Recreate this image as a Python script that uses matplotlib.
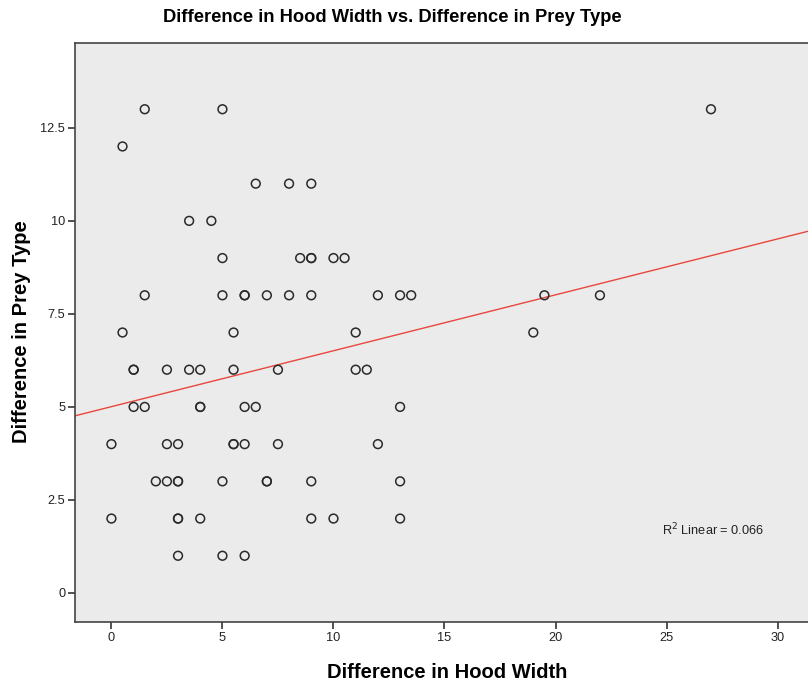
import numpy as np
import matplotlib
matplotlib.use("Agg")
import matplotlib.pyplot as plt

plt.rcParams['font.family'] = ['Liberation Sans', 'DejaVu Sans']

# Data (grouped by prey-type difference)
hood_13 = [1.5, 5, 27]
hood_12 = [0.5]
hood_11 = [6.5, 8, 9]
hood_10 = [3.5, 4.5]
hood_9 = [5, 8.5, 9, 9, 10, 10.5]
hood_8 = [1.5, 5, 6, 6, 7, 8, 9, 12, 13, 13.5, 19.5, 22]
hood_7 = [0.5, 5.5, 11, 19]
hood_6 = [1, 1, 2.5, 3.5, 4, 5.5, 7.5, 11, 11.5]
hood_5 = [1, 1.5, 4, 4, 6, 6.5, 13]
hood_4 = [0, 2.5, 3, 5.5, 5.5, 6, 7.5, 12]
hood_3 = [2, 2.5, 3, 3, 5, 7, 7, 9, 13]
hood_2 = [0, 3, 3, 4, 9, 10, 13]
hood_1 = [3, 5, 6]

groups = {13: hood_13, 12: hood_12, 11: hood_11, 10: hood_10, 9: hood_9,
          8: hood_8, 7: hood_7, 6: hood_6, 5: hood_5, 4: hood_4,
          3: hood_3, 2: hood_2, 1: hood_1}

hood_width = []
prey_type = []
for py, xs in groups.items():
    hood_width.extend(xs)
    prey_type.extend([py] * len(xs))
hood_width = np.array(hood_width, dtype=float)
prey_type = np.array(prey_type, dtype=float)

x_ticks = [0, 5, 10, 15, 20, 25, 30]
y_ticks = [0, 2.5, 5, 7.5, 10, 12.5]
y_tick_labels = ['0', '2.5', '5', '7.5', '10', '12.5']
r2_label = "R$^2$ Linear = 0.066"

W, H = 808, 685
fig = plt.figure(figsize=(W/100, H/100), dpi=100)
ax = fig.add_axes([75/W, 63/H, 1 - 75/W, (622-43)/H])
ax.set_facecolor('#EBEBEB')

xlim = (-1.64, 31.37)
ax.set_xlim(*xlim)
ax.set_ylim(-0.78, 14.78)

slope, intercept = np.polyfit(hood_width, prey_type, 1)
xl = np.array(xlim)
ax.plot(xl, intercept + slope * xl, color='#E8473D', lw=1.0, zorder=2)

ax.scatter(hood_width, prey_type, s=40, facecolors='none',
           edgecolors='#2A2A2A', linewidths=1.1, zorder=3)

ax.text(24.8, 1.7, r2_label, fontsize=9.2, color='#222222', va='center', ha='left')

ax.set_xticks(x_ticks)
ax.set_xticklabels([str(t) for t in x_ticks])
ax.set_yticks(y_ticks)
ax.set_yticklabels(y_tick_labels)
ax.tick_params(direction='out', length=5, width=1.2, color='#333333',
               labelsize=9.2, labelcolor='#222222', pad=2)

for s in ['left', 'bottom', 'top']:
    ax.spines[s].set_color('#444444')
    ax.spines[s].set_linewidth(1.2)
ax.spines['right'].set_visible(False)

ax.set_xlabel('Difference in Hood Width', fontsize=14.5, fontweight='bold')
ax.xaxis.label.set_va('center')
ax.xaxis.set_label_coords((447-75)/733, -(673-622)/579)
ax.set_ylabel('Difference in Prey Type', fontsize=14.5, fontweight='bold')
ax.yaxis.label.set_va('center')
ax.yaxis.set_label_coords((22-75)/733, (622-332)/579)

fig.text(392/W, 1 - 18/H, 'Difference in Hood Width vs. Difference in Prey Type',
         fontsize=13.2, fontweight='bold', ha='center', va='center')

fig.savefig('out.png', dpi=100)
